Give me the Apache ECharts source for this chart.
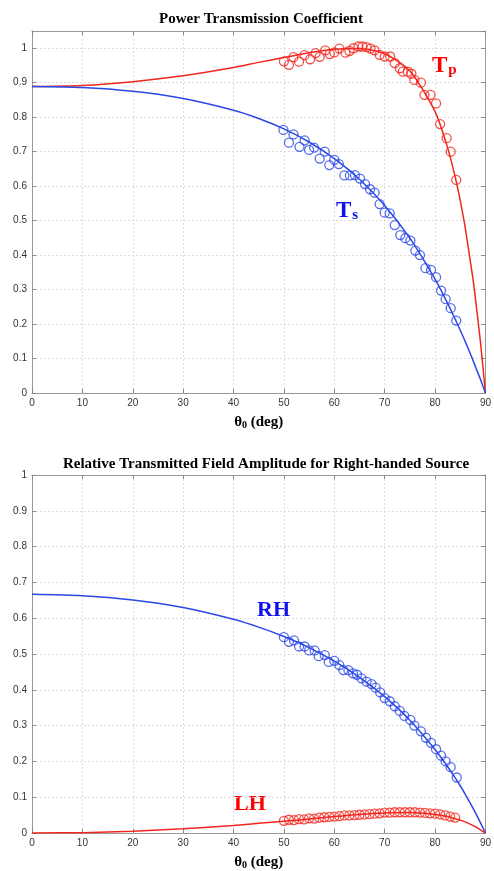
<!DOCTYPE html>
<html lang="en">
<head>
	<meta charset="UTF-8">
	<title>transmission</title>
	<style>
		html, body { margin: 0; padding: 0; background: #fff; overflow: hidden; }
		#chart { width: 494px; height: 871px; }
	</style>
</head>
<body>
	<div id="chart"></div>
	<script type="text/javascript" src="https://cdn.jsdelivr.net/npm/echarts@6/dist/echarts.min.js"></script>
	<script>
		// theory curves (incidence angle in deg)
		var curveAngle = [0, 10, 20, 30, 40, 45, 50, 55, 60, 65, 70, 75, 80, 82.5, 84, 85, 86, 87.5, 88, 89, 90];
		var tpCurve = [0.889, 0.892, 0.903, 0.920, 0.944, 0.959, 0.973, 0.987, 0.997, 0.999, 0.984, 0.934, 0.816, 0.711, 0.626, 0.558, 0.478, 0.333, 0.276, 0.149, 0];
		var tsCurve = [0.889, 0.886, 0.875, 0.854, 0.820, 0.796, 0.766, 0.728, 0.680, 0.620, 0.544, 0.449, 0.330, 0.260, 0.214, 0.182, 0.149, 0.096, 0.077, 0.040, 0];
		var rhCurve = [0.667, 0.663, 0.651, 0.630, 0.597, 0.575, 0.549, 0.518, 0.480, 0.435, 0.381, 0.315, 0.233, 0.185, 0.154, 0.132, 0.108, 0.070, 0.057, 0.029, 0];
		var lhCurve = [0, 0.001, 0.005, 0.012, 0.021, 0.027, 0.033, 0.039, 0.046, 0.052, 0.056, 0.057, 0.052, 0.046, 0.040, 0.036, 0.031, 0.021, 0.018, 0.009, 0];

		// measured points
		var tpAngle = [50.0, 51.0, 51.9, 53.0, 54.1, 55.2, 56.3, 57.1, 58.2, 59.1, 60.0, 61.0, 62.2, 63.0, 63.8, 64.8, 65.6, 66.4, 67.2, 68.0, 69.0, 70.0, 71.1, 72.0, 73.0, 73.6, 74.6, 75.3, 75.9, 77.2, 77.9, 79.1, 80.2, 81.0, 82.3, 83.1, 84.2];
		var tpMeas = [0.962, 0.952, 0.974, 0.961, 0.980, 0.968, 0.986, 0.975, 0.994, 0.983, 0.988, 0.999, 0.987, 0.992, 1.000, 1.005, 1.005, 1.003, 0.999, 0.994, 0.981, 0.976, 0.976, 0.957, 0.942, 0.932, 0.932, 0.926, 0.908, 0.900, 0.865, 0.865, 0.840, 0.780, 0.739, 0.700, 0.618];
		var tsAngle = [49.9, 51.0, 51.9, 53.1, 54.1, 55.0, 56.0, 57.1, 58.1, 59.0, 60.0, 60.9, 62.0, 63.1, 64.1, 65.1, 66.1, 67.1, 68.0, 69.0, 70.0, 71.0, 72.0, 73.1, 74.1, 75.1, 76.1, 77.0, 78.1, 79.2, 80.2, 81.2, 82.1, 83.1, 84.2];
		var tsMeas = [0.763, 0.726, 0.750, 0.714, 0.733, 0.705, 0.712, 0.680, 0.700, 0.661, 0.676, 0.664, 0.631, 0.631, 0.632, 0.622, 0.606, 0.591, 0.581, 0.548, 0.523, 0.521, 0.487, 0.458, 0.449, 0.442, 0.413, 0.400, 0.362, 0.357, 0.336, 0.297, 0.272, 0.246, 0.210];
		var rhAngle = [50.0, 51.0, 52.0, 53.0, 54.1, 55.0, 56.1, 56.9, 58.1, 58.9, 60.0, 61.0, 61.8, 62.8, 63.7, 64.5, 65.4, 66.4, 67.4, 68.2, 69.1, 70.0, 71.0, 72.0, 73.0, 73.9, 75.1, 75.9, 77.2, 78.2, 79.2, 80.2, 81.2, 82.1, 83.1, 84.3];
		var rhMeas = [0.547, 0.534, 0.538, 0.521, 0.521, 0.510, 0.510, 0.494, 0.497, 0.478, 0.481, 0.469, 0.455, 0.455, 0.446, 0.442, 0.432, 0.423, 0.416, 0.406, 0.393, 0.377, 0.368, 0.354, 0.341, 0.327, 0.316, 0.300, 0.284, 0.266, 0.252, 0.234, 0.216, 0.200, 0.184, 0.155];
		var lhAngle = [50, 51, 52, 53, 54, 55, 56, 57, 58, 59, 60, 61, 62, 63, 64, 65, 66, 67, 68, 69, 70, 71, 72, 73, 74, 75, 76, 77, 78, 79, 80, 81, 82, 83, 84];
		var lhMeas = [0.034, 0.037, 0.036, 0.039, 0.038, 0.041, 0.040, 0.043, 0.044, 0.045, 0.046, 0.047, 0.049, 0.049, 0.050, 0.051, 0.052, 0.053, 0.054, 0.055, 0.057, 0.057, 0.058, 0.058, 0.058, 0.058, 0.058, 0.057, 0.056, 0.055, 0.054, 0.052, 0.049, 0.046, 0.043];

		var RED = '#f2261d';
		var BLUE = '#2a48e6';

		function zip(xs, ys) {
			var arr = [];
			for (var i = 0; i < xs.length; i++) {
				arr.push([xs[i], ys[i]]);
			}
			return arr;
		}

		function curve(data, color, idx) {
			return {
				type: 'line',
				xAxisIndex: idx * 2,
				yAxisIndex: idx * 2,
				data: data,
				smooth: 0.25,
				showSymbol: false,
				lineStyle: { color: color, width: 1.5 },
				z: 3
			};
		}

		function dots(data, color, idx) {
			return {
				type: 'scatter',
				xAxisIndex: idx * 2,
				yAxisIndex: idx * 2,
				data: data,
				symbol: 'circle',
				symbolSize: 9,
				itemStyle: { color: 'rgba(0,0,0,0)', borderColor: color, borderWidth: 1.3 },
				z: 4
			};
		}

		var tickStyle = { inside: true, length: 4, lineStyle: { color: '#888' } };
		var boxLine = { show: true, onZero: false, lineStyle: { color: '#999', width: 1 } };
		var gridLine = { show: true, lineStyle: { color: '#d6d6d6', type: [2, 2], width: 0.8 } };
		var labelStyle = { color: '#333', fontSize: 10, fontFamily: 'Liberation Sans' };

		function xAxes(idx) {
			return [{
				type: 'value', gridIndex: idx, min: 0, max: 90, interval: 10,
				axisLine: boxLine, axisTick: tickStyle, splitLine: gridLine,
				axisLabel: Object.assign({ margin: 5 }, labelStyle),
				name: '{a|θ}{s|0}{a| (deg)}',
				nameLocation: 'middle',
				nameGap: 21,
				nameTextStyle: {
					rich: {
						a: { fontFamily: 'Liberation Serif', fontWeight: 'bold', fontSize: 15, color: '#000' },
						s: { fontFamily: 'Liberation Serif', fontWeight: 'bold', fontSize: 10, color: '#000', verticalAlign: 'bottom', padding: [6, 0, 0, 0] }
					}
				}
			}, {
				type: 'value', gridIndex: idx, position: 'top', min: 0, max: 90, interval: 10,
				axisLine: boxLine, axisTick: tickStyle, splitLine: { show: false },
				axisLabel: { show: false }
			}];
		}

		function yAxes(idx, max) {
			return [{
				type: 'value', gridIndex: idx, min: 0, max: max, interval: 0.1,
				axisLine: boxLine, axisTick: tickStyle, splitLine: gridLine,
				axisLabel: Object.assign({ margin: 5, showMaxLabel: max === 1 }, labelStyle)
			}, {
				type: 'value', gridIndex: idx, position: 'right', min: 0, max: max, interval: 0.1,
				axisLine: boxLine, axisTick: tickStyle, splitLine: { show: false },
				axisLabel: { show: false }
			}];
		}

		function label(parts, x, y, color, big, small) {
			return {
				type: 'text', left: x, top: y,
				style: {
					text: parts,
					rich: {
						a: { fontFamily: 'Liberation Serif', fontWeight: 'bold', fontSize: big, fill: color },
						b: { fontFamily: 'Liberation Serif', fontWeight: 'bold', fontSize: small, fill: color, verticalAlign: 'bottom', padding: [8, 0, 0, 1] }
					}
				}
			};
		}

		var chart = echarts.init(document.getElementById('chart'), null, { renderer: 'canvas', width: 494, height: 871 });

		var option = {
			backgroundColor: '#fff',
			animation: false,
			grid: [
				{ left: 32, top: 31, width: 458, height: 362 },
				{ left: 32, top: 475, width: 458, height: 360 }
			],
			xAxis: xAxes(0).concat(xAxes(1)),
			yAxis: yAxes(0, 1.05).concat(yAxes(1, 1)),
			graphic: [
				{
					type: 'text', x: 261, y: 19,
					style: { text: 'Power Transmission Coefficient', fontFamily: 'Liberation Serif', fontWeight: 'bold', fontSize: 15, fill: '#000', align: 'center', verticalAlign: 'middle' }
				},
				{
					type: 'text', x: 266, y: 464,
					style: { text: 'Relative Transmitted Field Amplitude for Right-handed Source', fontFamily: 'Liberation Serif', fontWeight: 'bold', fontSize: 15, fill: '#000', align: 'center', verticalAlign: 'middle' }
				},
				label('{a|T}{b|p}', 432, 55, '#ff0000', 23, 15),
				label('{a|T}{b|s}', 336, 200, '#1010ee', 23, 15),
				label('{a|RH}', 257, 599, '#1010ee', 22, 14),
				label('{a|LH}', 234, 793, '#ff0000', 22, 14)
			],
			series: [
				curve(zip(curveAngle, tpCurve), RED, 0),
				curve(zip(curveAngle, tsCurve), BLUE, 0),
				dots(zip(tpAngle, tpMeas), RED, 0),
				dots(zip(tsAngle, tsMeas), BLUE, 0),
				curve(zip(curveAngle, rhCurve), BLUE, 1),
				curve(zip(curveAngle, lhCurve), RED, 1),
				dots(zip(rhAngle, rhMeas), BLUE, 1),
				dots(zip(lhAngle, lhMeas), RED, 1)
			]
		};

		chart.setOption(option);
	</script>
</body>
</html>
